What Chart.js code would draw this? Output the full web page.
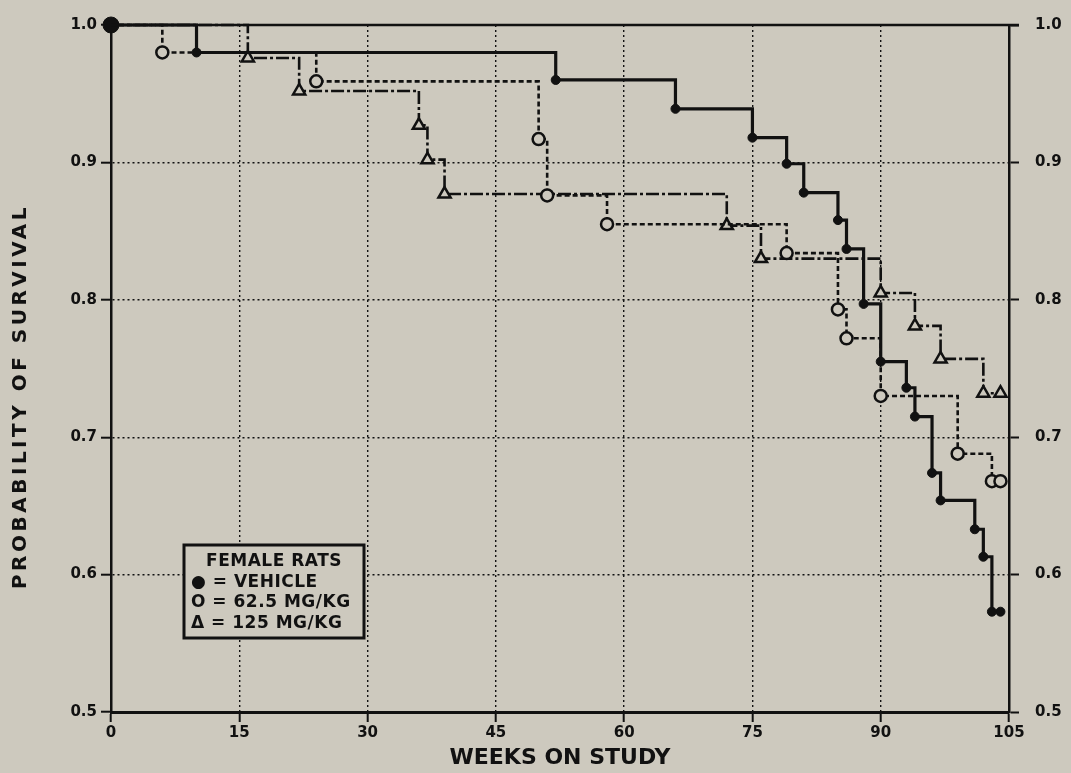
<!DOCTYPE html>
<html>
<head>
<meta charset="utf-8">
<script src="https://cdn.jsdelivr.net/npm/chart.js@4.4.1/dist/chart.umd.min.js"></script>
<style>
  html, body { margin: 0; padding: 0; background: #cdc9be; }
  #wrap { width: 1071px; height: 773px; }
</style>
</head>
<body>
<div id="wrap"><canvas id="survivalChart" width="1071" height="773"></canvas></div>
<script>
// Kaplan-Meier survival, female rats
const xTicks = [0, 15, 30, 45, 60, 75, 90, 105];
const yTicks = [0.5, 0.6, 0.7, 0.8, 0.9, 1.0];

const vehicleWeeks = [0, 10, 52, 66, 75, 79, 81, 85, 86, 88, 90, 93, 94, 96, 97, 101, 102, 103, 104];
const vehicleSurv  = [1.0, 0.98, 0.96, 0.939, 0.918, 0.899, 0.878, 0.858, 0.837, 0.797, 0.755, 0.736, 0.715, 0.674, 0.654, 0.633, 0.613, 0.573, 0.573];

const lowWeeks = [0, 6, 24, 50, 51, 58, 79, 85, 86, 90, 99, 103, 104];
const lowSurv  = [1.0, 0.98, 0.959, 0.917, 0.876, 0.855, 0.834, 0.793, 0.772, 0.730, 0.688, 0.668, 0.668];

const highWeeks = [0, 16, 22, 36, 37, 39, 72, 76, 90, 94, 97, 102, 104];
const highSurv  = [1.0, 0.976, 0.952, 0.927, 0.902, 0.877, 0.854, 0.830, 0.805, 0.781, 0.757, 0.732, 0.732];

const legendLines = ['FEMALE RATS', '\u25CF = VEHICLE', 'O = 62.5 MG/KG', '\u0394 = 125 MG/KG'];

const BG = '#cdc9be';
const INK = '#111111';
const FONT = '"DejaVu Sans", "Liberation Sans", sans-serif';

const toPoints = (xs, ys) => xs.map((x, i) => ({ x: x, y: ys[i] }));

// frame top, axis titles and the legend box
const decorPlugin = {
    id: 'decor',
    afterDatasetsDraw(chart) {
        const ctx = chart.ctx;
        const a = chart.chartArea;
        ctx.save();
        ctx.strokeStyle = INK;
        ctx.lineWidth = 2.5;
        ctx.beginPath();
        ctx.moveTo(a.left, a.top);
        ctx.lineTo(a.right + 10, a.top);
        ctx.stroke();

        // legend box
        const bx = 184, by = 545, bw = 180, bh = 93;
        ctx.fillStyle = BG;
        ctx.fillRect(bx, by, bw, bh);
        ctx.lineWidth = 3;
        ctx.strokeRect(bx, by, bw, bh);
        ctx.fillStyle = INK;
        ctx.font = 'bold 17px ' + FONT;
        ctx.letterSpacing = '0.5px';
        ctx.textBaseline = 'alphabetic';
        ctx.textAlign = 'center';
        ctx.fillText(legendLines[0], bx + bw / 2, by + 21);
        ctx.textAlign = 'left';
        ctx.fillText(legendLines[1], bx + 7, by + 42);
        ctx.fillText(legendLines[2], bx + 7, by + 62);
        ctx.fillText(legendLines[3], bx + 7, by + 83);
        ctx.restore();
    },
    afterDraw(chart) {
        const ctx = chart.ctx;
        const a = chart.chartArea;
        ctx.save();
        ctx.fillStyle = INK;
        ctx.font = 'bold 22px ' + FONT;
        ctx.textAlign = 'center';
        ctx.textBaseline = 'alphabetic';
        ctx.fillText('WEEKS ON STUDY', (a.left + a.right) / 2, 764);

        ctx.translate(21, (a.top + a.bottom) / 2 + 28);
        ctx.rotate(-Math.PI / 2);
        ctx.font = 'bold 20px ' + FONT;
        ctx.letterSpacing = '3.5px';
        ctx.textBaseline = 'middle';
        ctx.fillText('PROBABILITY OF SURVIVAL', 0, 0);
        ctx.restore();
    }
};

const gridStyle = {
    color: INK,
    lineWidth: 1.4,
    tickBorderDash: [],
    tickColor: INK,
    tickWidth: 2,
    tickLength: 10
};

new Chart(document.getElementById('survivalChart'), {
    type: 'line',
    data: {
        datasets: [
            {
                label: 'VEHICLE',
                data: toPoints(vehicleWeeks, vehicleSurv),
                stepped: true,
                borderColor: INK,
                borderWidth: 3.2,
                pointStyle: 'circle',
                pointRadius: ctx => ctx.dataIndex === 0 ? 8 : 4.5,
                pointBackgroundColor: INK,
                pointBorderColor: INK,
                pointBorderWidth: 1,
                clip: false
            },
            {
                label: '62.5 MG/KG',
                data: toPoints(lowWeeks, lowSurv),
                stepped: true,
                borderColor: INK,
                borderWidth: 2.6,
                borderDash: [5, 3],
                pointStyle: 'circle',
                pointRadius: ctx => ctx.dataIndex === 0 ? 0 : 6,
                pointBackgroundColor: BG,
                pointBorderColor: INK,
                pointBorderWidth: 2.5,
                clip: false
            },
            {
                label: '125 MG/KG',
                data: toPoints(highWeeks, highSurv),
                stepped: true,
                borderColor: INK,
                borderWidth: 2.6,
                borderDash: [13, 3, 3, 3],
                pointStyle: 'triangle',
                pointRadius: ctx => ctx.dataIndex === 0 ? 0 : 7,
                pointBackgroundColor: BG,
                pointBorderColor: INK,
                pointBorderWidth: 2.5,
                clip: false
            }
        ]
    },
    options: {
        responsive: false,
        animation: false,
        layout: { padding: { top: 17, right: 0, bottom: 0, left: 0 } },
        plugins: {
            legend: { display: false },
            tooltip: { enabled: false }
        },
        scales: {
            x: {
                type: 'linear',
                min: 0,
                max: 105,
                afterBuildTicks: scale => { scale.ticks = xTicks.map(v => ({ value: v })); },
                afterFit: scale => { scale.height = 61; },
                grid: gridStyle,
                border: { display: true, color: INK, width: 3, dash: [2, 3] },
                ticks: {
                    color: INK,
                    padding: 2,
                    font: { family: FONT, size: 15, weight: 'bold' }
                }
            },
            y: {
                position: 'left',
                min: 0.5,
                max: 1.0,
                afterBuildTicks: scale => { scale.ticks = yTicks.map(v => ({ value: v })); },
                afterFit: scale => { scale.width = 111; },
                grid: gridStyle,
                border: { display: true, color: INK, width: 2.5, dash: [2, 3] },
                ticks: {
                    color: INK,
                    padding: 4,
                    callback: v => v.toFixed(1),
                    font: { family: FONT, size: 15, weight: 'bold' }
                }
            },
            yRight: {
                position: 'right',
                min: 0.5,
                max: 1.0,
                afterBuildTicks: scale => { scale.ticks = yTicks.map(v => ({ value: v })); },
                afterFit: scale => { scale.width = 62; },
                grid: { drawOnChartArea: false, tickColor: INK, tickWidth: 2, tickLength: 10 },
                border: { display: true, color: INK, width: 2.5 },
                ticks: {
                    color: INK,
                    padding: 16,
                    callback: v => v.toFixed(1),
                    font: { family: FONT, size: 15, weight: 'bold' }
                }
            }
        }
    },
    plugins: [decorPlugin]
});
</script>
</body>
</html>
